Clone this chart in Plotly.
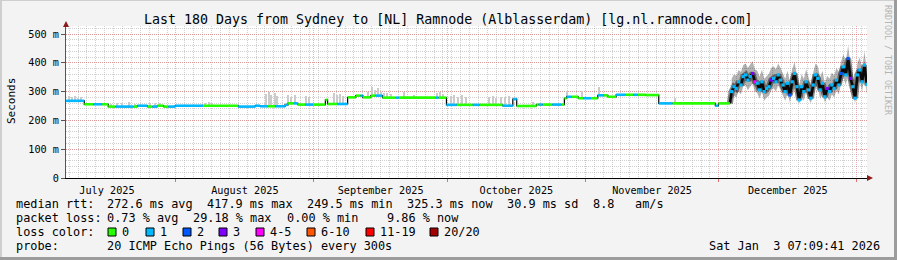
import plotly.graph_objects as go
import pandas as pd

# ---------------- layout constants ----------------
W, H = 897, 260
L, R, T, B = 66, 30, 26, 82
PW, PH = W - L - R, H - T - B
FONT = "DejaVu Sans Mono"

# ---------------- data ----------------
x_start = "2025-07-07 07:09:41"
x_end = "2026-01-03 07:09:41"
y_max = 527.8

y_tick_vals = [0, 100, 200, 300, 400, 500]
y_tick_text = ["0", "100 m", "200 m", "300 m", "400 m", "500 m"]

# stable period: step-wise median rtt (ms) and loss bucket per segment start
flat_dates = [
    "2025-07-07 07:09", "2025-07-11 10:00", "2025-07-13 10:00", "2025-07-15 10:00",
    "2025-07-16 19:00", "2025-07-18 10:00", "2025-07-22 10:00", "2025-07-23 07:00",
    "2025-07-25 14:00", "2025-07-26 17:00", "2025-07-27 19:00", "2025-07-29 05:00",
    "2025-07-30 07:00", "2025-07-31 20:00", "2025-08-07 02:00", "2025-08-15 00:00",
    "2025-08-18 19:00", "2025-08-19 22:00", "2025-08-21 17:00", "2025-08-23 07:00",
    "2025-08-25 12:00", "2025-08-26 05:00", "2025-08-27 12:00", "2025-08-28 10:00",
    "2025-08-30 00:00", "2025-08-31 19:00", "2025-09-03 14:00", "2025-09-04 02:00",
    "2025-09-06 07:00", "2025-09-08 14:00", "2025-09-10 10:00", "2025-09-11 12:00",
    "2025-09-12 00:00", "2025-09-13 19:00", "2025-09-14 22:00", "2025-09-16 10:00",
    "2025-09-19 10:00", "2025-09-20 02:00", "2025-09-28 10:00", "2025-09-29 00:00",
    "2025-09-30 19:00", "2025-10-03 02:00", "2025-10-06 17:00", "2025-10-08 07:00",
    "2025-10-13 10:00", "2025-10-15 17:00", "2025-10-16 14:00", "2025-10-21 00:00",
    "2025-10-21 12:00", "2025-10-22 10:00", "2025-10-24 14:00", "2025-10-26 14:00",
    "2025-10-27 07:00", "2025-10-27 19:00", "2025-10-28 22:00", "2025-10-30 10:00",
    "2025-10-31 12:00", "2025-11-02 07:00", "2025-11-03 19:00", "2025-11-05 05:00",
    "2025-11-06 02:00", "2025-11-07 22:00", "2025-11-10 02:00", "2025-11-11 17:00",
    "2025-11-12 19:00", "2025-11-14 14:00", "2025-11-17 12:00", "2025-11-20 14:00",
    "2025-11-30 05:00", "2025-11-30 22:00",
]
flat_end = "2025-12-03 12:00"
flat_median = [
    268, 256, 256, 256, 248, 248, 248, 251, 248, 248, 251, 248, 248, 251, 251, 248,
    251, 249, 249, 249, 254, 259, 259, 255, 255, 255, 271, 257, 257, 280, 286, 286,
    280, 286, 286, 279, 279, 279, 279, 279, 254, 254, 254, 254, 251, 274, 250, 255,
    255, 255, 255, 255, 277, 282, 282, 277, 277, 277, 287, 287, 282, 289, 289, 289,
    289, 288, 259, 259, 251, 259,
]
flat_loss = [
    1, 0, 1, 0, 0, 1, 0, 1, 0, 1, 0, 0, 1, 1, 0, 1,
    1, 1, 0, 1, 1, 0, 1, 0, 1, 0, 0, 0, 1, 0, 0, 1,
    0, 0, 1, 0, 1, 0, 1, 0, 1, 0, 1, 0, 1, 1, 0, 0,
    1, 0, 1, 0, 0, 1, 0, 0, 1, 0, 1, 0, 0, 1, 0, 1,
    0, 0, 1, 0, 1, 0,
]

# smoke spikes above the median during the stable period
spike_dates = [
    "2025-07-08 00:00", "2025-07-08 17:00", "2025-07-09 10:00", "2025-07-10 02:00", "2025-07-10 19:00",
    "2025-07-17 12:00", "2025-07-18 19:00", "2025-07-20 00:00", "2025-07-21 12:00", "2025-07-22 19:00",
    "2025-07-26 05:00", "2025-07-27 07:00", "2025-07-28 10:00",
    "2025-08-07 12:00", "2025-08-08 12:00", "2025-08-09 05:00",
    "2025-08-21 07:00", "2025-08-21 22:00", "2025-08-22 12:00", "2025-08-23 05:00", "2025-08-23 19:00",
    "2025-08-26 07:00", "2025-08-27 00:00", "2025-08-27 17:00",
    "2025-08-30 07:00", "2025-08-31 00:00",
    "2025-09-05 14:00", "2025-09-06 07:00", "2025-09-07 00:00", "2025-09-07 14:00",
    "2025-09-13 07:00", "2025-09-14 00:00", "2025-09-14 17:00", "2025-09-15 10:00", "2025-09-16 02:00", "2025-09-16 17:00",
    "2025-09-17 14:00", "2025-09-18 07:00",
    "2025-09-21 07:00", "2025-09-23 12:00",
    "2025-09-28 17:00", "2025-09-29 10:00", "2025-09-30 02:00",
    "2025-10-01 19:00", "2025-10-02 14:00", "2025-10-03 12:00", "2025-10-04 10:00", "2025-10-05 07:00",
    "2025-10-10 07:00", "2025-10-11 05:00", "2025-10-12 02:00", "2025-10-13 00:00", "2025-10-14 00:00", "2025-10-15 00:00",
    "2025-10-20 07:00", "2025-10-28 00:00", "2025-10-31 07:00", "2025-11-04 05:00", "2025-11-21 05:00",
]
spike_tops = [
    285, 280, 284, 278, 282,
    258, 262, 260, 263, 258,
    260, 262, 259,
    262, 265, 260,
    292, 300, 288, 295, 285,
    288, 282, 287,
    285, 280,
    294, 288, 292, 286,
    300, 317, 305, 312, 300, 296,
    294, 290,
    300, 288,
    295, 300, 292,
    285, 288, 282, 287, 280,
    280, 285, 278, 283, 280, 285,
    265, 302, 303, 317, 277,
]

# unstable period (December): median, loss bucket and smoke extent
noisy_first, noisy_last = "2025-12-03 21:00", "2026-01-03 06:00"
noisy_median = [
    300, 317, 311, 334, 323, 352, 358, 340, 352, 363,
    334, 329, 306, 334, 300, 311, 317, 340, 346, 334,
    358, 340, 323, 300, 329, 288, 334, 363, 317, 271,
    317, 300, 334, 306, 277, 323, 358, 346, 306, 329,
    282, 311, 300, 323, 311, 340, 323, 363, 386, 358,
    415, 346, 317, 277, 358, 375, 334, 392, 325,
]
noisy_loss = [
    1, 1, 1, 1, 1, 1, 1, 1, 1, 3,
    4, 1, 1, 1, 1, 1, 1, 3, 1, 1,
    1, 1, 1, 1, 1, 2, 1, 1, 1, 1,
    1, 1, 1, 1, 1, 1, 1, 1, 1, 1,
    1, 3, 1, 1, 1, 1, 1, 2, 1, 1,
    2, 3, 1, 1, 1, 1, 1, 1, 1,
]
noisy_hi = [
    345, 360, 355, 375, 368, 392, 398, 382, 395, 405,
    378, 372, 352, 376, 345, 355, 362, 382, 388, 378,
    398, 382, 366, 345, 372, 335, 378, 402, 360, 318,
    360, 345, 378, 350, 322, 366, 398, 388, 350, 372,
    328, 355, 345, 366, 356, 382, 368, 405, 430, 402,
    460, 392, 362, 325, 400, 418, 378, 440, 372,
]
noisy_lo = [
    272, 285, 280, 300, 290, 318, 322, 305, 318, 328,
    300, 295, 275, 300, 268, 280, 285, 305, 312, 300,
    322, 305, 290, 268, 295, 262, 300, 328, 285, 258,
    285, 268, 300, 275, 260, 290, 322, 312, 275, 295,
    262, 280, 268, 290, 280, 305, 290, 328, 350, 322,
    372, 312, 285, 260, 322, 340, 300, 352, 290,
]

loss_labels = ["0", "1", "2", "3", "4-5", "6-10", "11-19", "20/20"]
loss_colors = ["#26ff00", "#00b8ff", "#0059ff", "#7e00ff", "#ff00ff", "#ff5500", "#ff0000", "#a10000"]

stats_rtt = ["median rtt:", "272.6 ms avg", "417.9 ms max", "249.5 ms min", "325.3 ms now", "30.9 ms sd", "8.8", "am/s"]
stats_loss = ["packet loss:", "0.73 % avg", "29.18 % max", "0.00 % min", "9.86 % now"]
probe_text = "20 ICMP Echo Pings (56 Bytes) every 300s"
stamp_text = "Sat Jan  3 07:09:41 2026"
title_text = "Last 180 Days from Sydney to [NL] Ramnode (Alblasserdam) [lg.nl.ramnode.com]"

# ---------------- helpers ----------------
def px(x):
    return (x - L) / PW

def py(y):
    return (H - B - y) / PH

def nb(s):
    return s.replace(" ", "\u00a0")

fig = go.Figure()

# smoke spikes (stable period)
fd = pd.to_datetime(flat_dates)
sd = pd.to_datetime(spike_dates)
fm = pd.Series(flat_median, index=fd)
spike_base = [float(fm[fm.index <= d].iloc[-1]) for d in sd]
fig.add_trace(go.Bar(
    x=sd, y=[t - b for t, b in zip(spike_tops, spike_base)], base=spike_base,
    width=0.32 * 86400000, marker=dict(color="#cbcbcb", line=dict(width=0)),
    hoverinfo="skip", showlegend=False))

# smoke band (unstable period)
nd = pd.date_range(noisy_first, noisy_last, periods=len(noisy_median))
fig.add_trace(go.Scatter(x=nd, y=noisy_lo, mode="lines", line=dict(width=0),
                         showlegend=False, hoverinfo="skip"))
fig.add_trace(go.Scatter(x=nd, y=noisy_hi, mode="lines", line=dict(width=0),
                         fill="tonexty", fillcolor="rgba(0,0,0,0.30)", showlegend=False, hoverinfo="skip"))

# black connector line for the whole median
all_x = list(fd) + [pd.Timestamp(flat_end)]
all_y = flat_median + [flat_median[-1]]
fig.add_trace(go.Scatter(x=all_x, y=all_y, mode="lines", line=dict(color="black", width=1.2, shape="hv"),
                         showlegend=False, hoverinfo="skip"))
fig.add_trace(go.Scatter(x=[pd.Timestamp(flat_end)] + list(nd), y=[flat_median[-1]] + noisy_median,
                         mode="lines", line=dict(color="rgba(40,40,40,0.55)", width=6),
                         showlegend=False, hoverinfo="skip"))
fig.add_trace(go.Scatter(x=[pd.Timestamp(flat_end)] + list(nd), y=[flat_median[-1]] + noisy_median,
                         mode="lines", line=dict(color="#0a0a0a", width=2.6),
                         showlegend=False, hoverinfo="skip"))

# coloured median segments (stable period)
ends = list(fd[1:]) + [pd.Timestamp(flat_end)]
for b, col in enumerate(loss_colors):
    xs, ys = [], []
    for s, e, v, l in zip(fd, ends, flat_median, flat_loss):
        if l == b:
            xs += [s, e, None]
            ys += [v, v, None]
    if xs:
        fig.add_trace(go.Scatter(x=xs, y=ys, mode="lines", line=dict(color=col, width=2.6),
                                 showlegend=False, hoverinfo="skip"))

# coloured median points (unstable period)
fig.add_trace(go.Scatter(x=nd, y=noisy_median, mode="markers",
                         marker=dict(symbol="square", size=3.2, color=[loss_colors[l] for l in noisy_loss],
                                     line=dict(width=0)),
                         showlegend=False, hoverinfo="skip"))

# ---------------- axes ----------------
grid_red = "rgba(225,110,110,0.55)"
grid_gray = "rgba(170,170,170,0.55)"
fig.update_xaxes(
    type="date", range=[x_start, x_end], dtick="M1", tick0="2025-08-01",
    tickformat="%B %Y", ticklabelmode="period",
    showgrid=True, gridcolor=grid_red, griddash="1px,1px", gridwidth=1,
    ticks="outside", ticklen=3, tickcolor="#e07070",
    showline=True, linecolor="black", linewidth=1,
    tickfont=dict(family=FONT, size=10.2, color="black"),
    minor=dict(dtick=2 * 86400000, tick0="2025-08-01", showgrid=True, gridcolor=grid_gray,
               griddash="1px,1px", ticks=""),
    zeroline=False, fixedrange=True,
)
fig.update_yaxes(
    range=[0, y_max], tickmode="array", tickvals=y_tick_vals, ticktext=y_tick_text,
    showgrid=True, gridcolor=grid_red, griddash="1px,1px", gridwidth=1,
    ticks="outside", ticklen=4, tickcolor="#555555",
    showline=True, linecolor="#555555", linewidth=1,
    tickfont=dict(family=FONT, size=10.2, color="black"),
    minor=dict(tickmode="linear", tick0=0, dtick=20, showgrid=True, gridcolor=grid_gray,
               griddash="1px,1px", ticks=""),
    zeroline=False, fixedrange=True,
)

# ---------------- annotations ----------------
anns = []

def ann(text, x, y, size=11.85, xanchor="left", color="black", angle=0):
    anns.append(dict(text=nb(text), x=px(x), y=py(y), xref="paper", yref="paper",
                     xanchor=xanchor, yanchor="middle", showarrow=False, textangle=angle,
                     borderpad=0, font=dict(family=FONT, size=size, color=color)))

ann(title_text, 448, 19, size=13.3, xanchor="center")
ann("Seconds", 11, 101, size=11, xanchor="center", angle=-90)
ann("RRDTOOL / TOBI OETIKER", 888, 60, size=8.3, xanchor="center", color="#b4b4b4", angle=90)

rtt_x = [15, 106, 206, 306, 406, 506, 592, 634]
for t, x in zip(stats_rtt, rtt_x):
    ann(t, x, 204)
loss_x = [15, 106, 192, 286, 386]
for t, x in zip(stats_loss, loss_x):
    ann(t, x, 218)
ann("loss color:", 15, 232)
box_x = [108, 146, 183, 219, 256, 307, 366, 430]
shapes = []
for lab, col, bx in zip(loss_labels, loss_colors, box_x):
    shapes.append(dict(type="rect", xref="paper", yref="paper", x0=px(bx), x1=px(bx + 8),
                       y0=py(236), y1=py(228), fillcolor=col, line=dict(color="black", width=1)))
    ann(lab, bx + 13, 232)
ann("probe:", 15, 246)
ann(probe_text, 106, 246)
ann(stamp_text, 881, 246, xanchor="right")

# arrows
shapes.append(dict(type="path", xref="paper", yref="paper",
                   path=f"M {px(63)} {py(27)} L {px(69)} {py(27)} L {px(66)} {py(21)} Z",
                   fillcolor="#8b1a1a", line=dict(width=0)))
shapes.append(dict(type="path", xref="paper", yref="paper",
                   path=f"M {px(867)} {py(175)} L {px(867)} {py(181)} L {px(873)} {py(178)} Z",
                   fillcolor="#8b1a1a", line=dict(width=0)))
# frame
shapes.append(dict(type="line", xref="paper", yref="paper", x0=px(0), x1=px(W), y0=py(0.5), y1=py(0.5),
                   line=dict(color="#cfcfcf", width=1)))
shapes.append(dict(type="line", xref="paper", yref="paper", x0=px(1), x1=px(1), y0=py(0), y1=py(H),
                   line=dict(color="#cfcfcf", width=2)))
shapes.append(dict(type="line", xref="paper", yref="paper", x0=px(W - 1.5), x1=px(W - 1.5), y0=py(0), y1=py(H),
                   line=dict(color="#9c9c9c", width=3)))
shapes.append(dict(type="line", xref="paper", yref="paper", x0=px(0), x1=px(W), y0=py(H - 1.5), y1=py(H - 1.5),
                   line=dict(color="#9c9c9c", width=3)))

fig.update_layout(
    width=W, height=H, autosize=False,
    margin=dict(l=L, r=R, t=T, b=B, pad=0),
    paper_bgcolor="#f3f3f3", plot_bgcolor="white",
    showlegend=False, bargap=0,
    annotations=anns, shapes=shapes,
    font=dict(family=FONT, size=10, color="black"),
)

fig.write_html("out.html")
